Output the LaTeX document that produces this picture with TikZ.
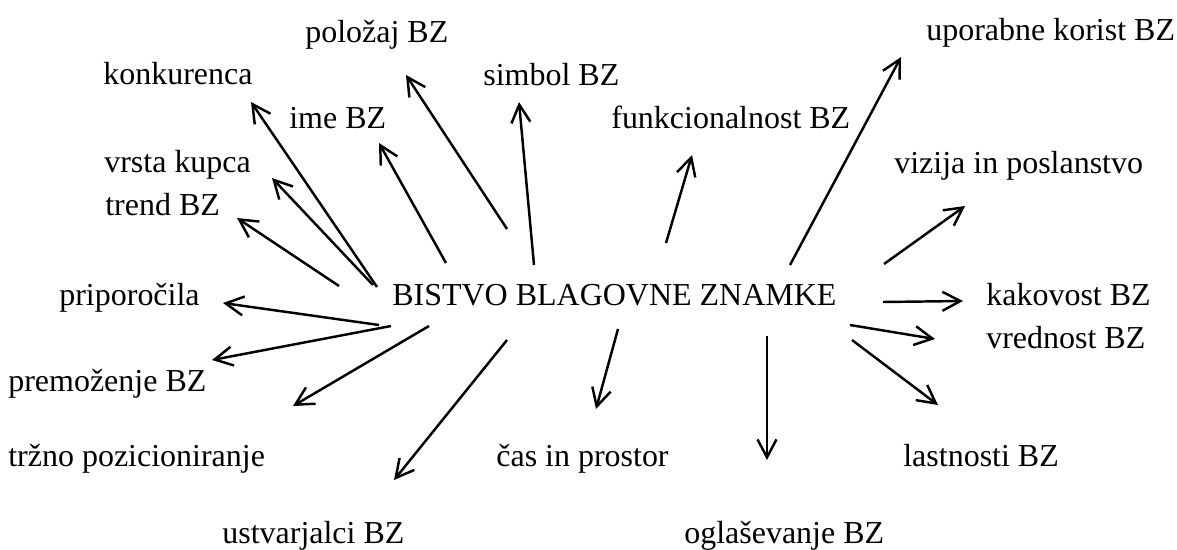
\documentclass[tikz,border=0pt]{standalone}
\usepackage{fontspec}
\setmainfont{Liberation Serif}
\usetikzlibrary{arrows.meta}
\tikzset{
	lbl/.style={anchor=base west, inner sep=0pt, font=\fontsize{18.2}{22}\selectfont},
	spoke/.style={-{Straight Barb[length=0.36cm, width=0.38cm]}, line width=1.4pt},
}
\begin{document}
\begin{tikzpicture}[x=0.02cm, y=-0.02cm]
	\useasboundingbox (0,0) rectangle (1177,549);
	\newcommand{\bzTerm}[4]{
		% args:
		%     name
		%     left x
		%     baseline y
		%     text
		\node[lbl] (lbl_#1) at (#2,#3) {#4};
	}
	\newcommand{\bzSpoke}[3]{
		% args:
		%     name
		%     start point
		%     tip point
		\coordinate (from_#1) at (#2);
		\coordinate (to_#1) at (#3);
		\draw[spoke] (from_#1) -- (to_#1);
	}
	%
	% centre
	\bzTerm{bistvo}{392}{305}{BISTVO BLAGOVNE ZNAMKE}
	% terms, top half
	\bzTerm{polozaj}{305}{42}{položaj BZ}
	\bzTerm{konkurenca}{103}{84}{konkurenca}
	\bzTerm{simbol}{483}{85}{simbol BZ}
	\bzTerm{uporabne}{926}{40}{uporabne korist BZ}
	\bzTerm{ime}{289}{128}{ime BZ}
	\bzTerm{funkc}{611}{128}{funkcionalnost BZ}
	\bzTerm{kupec}{104}{172}{vrsta kupca}
	\bzTerm{vizija}{894}{173}{vizija in poslanstvo}
	\bzTerm{trend}{105}{215}{trend BZ}
	% terms, bottom half
	\bzTerm{priporocila}{59}{305}{priporočila}
	\bzTerm{kakovost}{986}{305}{kakovost BZ}
	\bzTerm{vrednost}{986}{348}{vrednost BZ}
	\bzTerm{premozenje}{8}{391}{premoženje BZ}
	\bzTerm{trzno}{8}{466}{tržno pozicioniranje}
	\bzTerm{cas}{496}{466}{čas in prostor}
	\bzTerm{lastnosti}{903}{466}{lastnosti BZ}
	\bzTerm{ustvarjalci}{222}{543}{ustvarjalci BZ}
	\bzTerm{oglasevanje}{684}{543}{oglaševanje BZ}
	% arrows out of the centre
	\bzSpoke{konkurenca}{377,287}{251,102}
	\bzSpoke{kupec}{373,285}{272,178}
	\bzSpoke{trend}{339,286}{237,218}
	\bzSpoke{ime}{446,263}{379,143}
	\bzSpoke{polozaj}{507,229}{406,75}
	\bzSpoke{simbol}{534,265}{519,102}
	\bzSpoke{funkc}{666,243}{692,155}
	\bzSpoke{uporabne}{790,265}{901,57}
	\bzSpoke{vizija}{884,264}{965,206}
	\bzSpoke{kakovost}{883,302}{963,301}
	\bzSpoke{vrednost}{850,325}{935,339}
	\bzSpoke{lastnosti}{852,340}{938,405}
	\bzSpoke{oglasevanje}{767,336}{767,460}
	\bzSpoke{cas}{618,329}{596,409}
	\bzSpoke{ustvarjalci}{507,340}{394,480}
	\bzSpoke{trzno}{429,326}{293,406}
	\bzSpoke{premozenje}{391,326}{212,360}
	\bzSpoke{priporocila}{379,325}{223,303}
\end{tikzpicture}
\end{document}
